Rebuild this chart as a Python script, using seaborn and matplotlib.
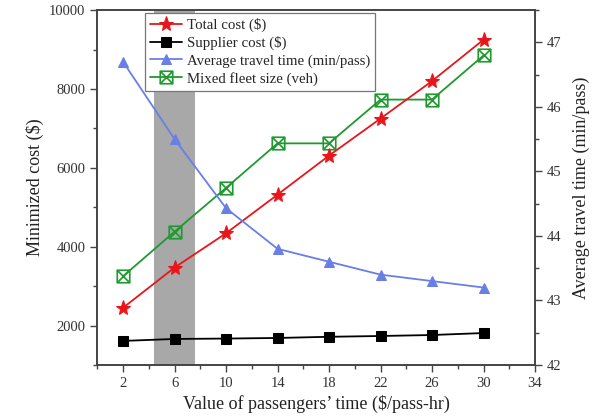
import numpy as np
import pandas as pd
import matplotlib
matplotlib.use("Agg")
import matplotlib.pyplot as plt
import seaborn as sns
from matplotlib.path import Path
from matplotlib.ticker import MultipleLocator, FixedLocator

# ---- data ----
value_of_time = [2, 6, 10, 14, 18, 22, 26, 30]
total_cost = [2450, 3470, 4340, 5320, 6310, 7250, 8200, 9250]
supplier_cost = [1610, 1660, 1670, 1685, 1715, 1735, 1760, 1810]
fleet_size = [3250, 4380, 5490, 6620, 6620, 7730, 7730, 8850]
avg_travel_time = [46.7, 45.5, 44.43, 43.8, 43.6, 43.4, 43.3, 43.2]
x_ticks = [2, 6, 10, 14, 18, 22, 26, 30, 34]
band = (4.4, 7.6)

sns.set_style("ticks")
plt.rcParams['font.family'] = ['Liberation Serif', 'DejaVu Serif']
plt.rcParams['mathtext.fontset'] = 'stix'

fig = plt.figure(figsize=(6.08, 4.2), dpi=100)
ax = fig.add_axes([0.16, 0.131, 0.72, 0.845])
ax2 = ax.twinx()

# custom boxed-X marker
verts = [(-1, -1), (1, -1), (1, 1), (-1, 1), (-1, -1),
         (-1, -1), (1, 1), (-1, 1), (1, -1)]
codes = [Path.MOVETO, Path.LINETO, Path.LINETO, Path.LINETO, Path.CLOSEPOLY,
         Path.MOVETO, Path.LINETO, Path.MOVETO, Path.LINETO]
boxx = Path(verts, codes)

ax.axvspan(band[0], band[1], color='#a8a8a8', zorder=0, lw=0)

df = pd.DataFrame({"x": value_of_time, "total": total_cost, "supp": supplier_cost,
                   "fleet": fleet_size, "att": avg_travel_time})

red = '#e8161b'
green = '#1e9a2e'
blue = '#6a7fe6'

sns.lineplot(data=df, x="x", y="fleet", ax=ax, color=green, marker=boxx,
             markersize=9, markerfacecolor='none', markeredgecolor=green,
             markeredgewidth=1.2, lw=1.3, label="Mixed fleet size (veh)")
sns.lineplot(data=df, x="x", y="total", ax=ax, color=red, marker='*',
             markersize=11, markeredgecolor=red, lw=1.3, label="Total cost ($)")
sns.lineplot(data=df, x="x", y="supp", ax=ax, color='black', marker='s',
             markersize=6.5, markeredgecolor='black', lw=1.3, label="Supplier cost ($)")
sns.lineplot(data=df, x="x", y="att", ax=ax2, color=blue, marker='^',
             markersize=7.5, markeredgecolor=blue, lw=1.3,
             label="Average travel time (min/pass)")

ax.set_xlim(0, 34)
ax.set_ylim(1000, 10000)
ax2.set_ylim(42, 47.5)

ax.xaxis.set_major_locator(FixedLocator(x_ticks))
ax.xaxis.set_minor_locator(FixedLocator([0, 4, 8, 12, 16, 20, 24, 28, 32]))
ax.yaxis.set_major_locator(FixedLocator([2000, 4000, 6000, 8000, 10000]))
ax.yaxis.set_minor_locator(MultipleLocator(1000))
ax2.yaxis.set_major_locator(FixedLocator([42, 43, 44, 45, 46, 47]))
ax2.yaxis.set_minor_locator(MultipleLocator(0.5))

spc = '#444444'
for a in (ax, ax2):
    for s in a.spines.values():
        s.set_color(spc)
        s.set_linewidth(1.2)
    a.tick_params(which='major', direction='out', length=5, width=1, color=spc,
                  labelsize=10.5, labelcolor='#333333')
    a.tick_params(which='minor', direction='out', length=3, width=1, color=spc)

ax.set_xlabel("Value of passengers’ time ($/pass-hr)", fontsize=13, color='#222222')
ax.set_ylabel("Minimized cost ($)", fontsize=13, color='#222222')
ax2.set_ylabel("Average travel time (min/pass)", fontsize=13, color='#222222', labelpad=8)

h1, l1 = ax.get_legend_handles_labels()
h2, l2 = ax2.get_legend_handles_labels()
hd = dict(zip(l1 + l2, h1 + h2))
order = ["Total cost ($)", "Supplier cost ($)", "Average travel time (min/pass)",
         "Mixed fleet size (veh)"]
if ax.get_legend():
    ax.get_legend().remove()
if ax2.get_legend():
    ax2.get_legend().remove()
leg = ax2.legend([hd[k] for k in order], order, loc='upper left',
                 bbox_to_anchor=(0.108, 0.993), fontsize=10.7, frameon=True,
                 fancybox=False, edgecolor='#777777', framealpha=1,
                 borderpad=0.35, labelspacing=0.27, handlelength=2.2,
                 handletextpad=0.3, borderaxespad=0)
leg.get_frame().set_linewidth(0.9)

fig.savefig("out.png", dpi=100)
